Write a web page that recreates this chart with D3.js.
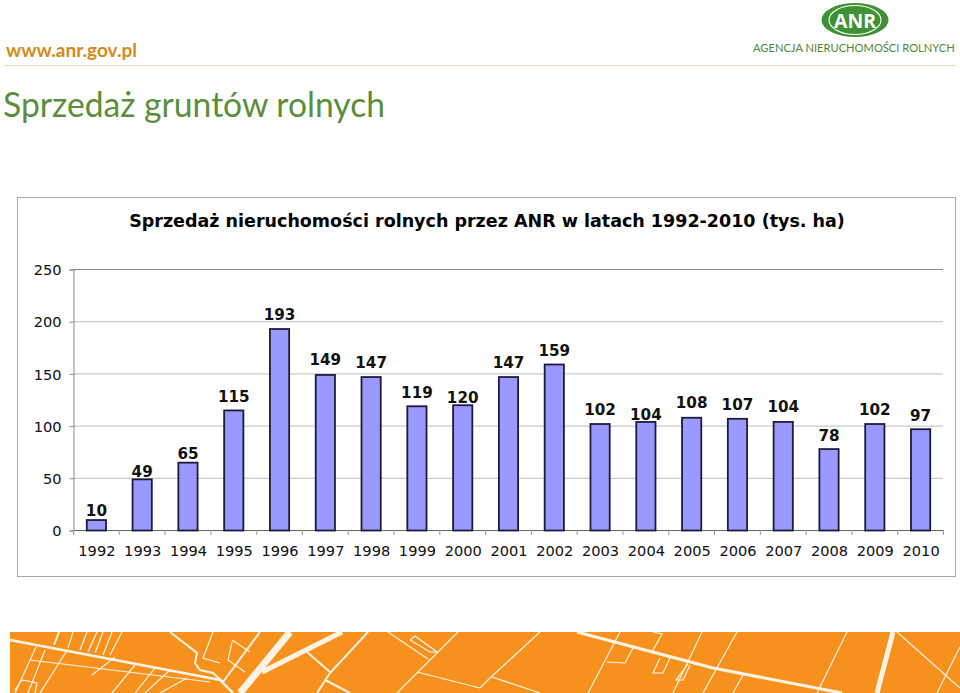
<!DOCTYPE html>
<html lang="pl">
<head>
	<meta charset="UTF-8">
	<title>Sprzedaż gruntów rolnych</title>
	<style>
		html, body { margin: 0; padding: 0; background: #fff; }
		svg { display: block; }
		.tick-label { font: 14.6px "DejaVu Sans", sans-serif; fill: #111; }
		.value-label { font: bold 15.2px "DejaVu Sans", sans-serif; fill: #111; text-anchor: middle; }
		.bar { fill: #9999ff; stroke: #1c1c3a; stroke-width: 1.8px; }
	</style>
</head>
<body>
<script src="https://d3js.org/d3.v7.min.js"></script>
<script>
	var years = ['1992','1993','1994','1995','1996','1997','1998','1999','2000','2001','2002','2003','2004','2005','2006','2007','2008','2009','2010'];
	var sales = [10,49,65,115,193,149,147,119,120,147,159,102,104,108,107,104,78,102,97];
	var yTicks = [0,50,100,150,200,250];
	// the labels do not sit at one height above the bars in the original
	var labelGaps = [4,2,3,8,9,9,9,8,2,9,8,9,1,9,8,9,8,9,8];

	// street lines of the footer band: [width, x,y, x,y, ...]
	var roads = [
		[2.5, 10,640, 220,680, 233,693],
		[2, 59,632, 54,645],
		[1.2, 73,632, 68,648], [1.2, 87,632, 80,650], [1.2, 97,632, 88,652],
		[1.2, 103,632, 95,653], [1.2, 112,632, 103,655], [1.2, 122,632, 110,655],
		[1.2, 36,647, 15,693], [1.2, 45,650, 28,693], [1.2, 66,652, 40,693],
		[1.2, 30,660, 210,682], [1.2, 115,657, 92,675], [1.2, 135,665, 112,693],
		[1.2, 155,668, 135,693], [1.2, 170,670, 145,693], [1.2, 187,678, 160,693],
		[1.2, 15,690, 22,680, 37,683, 35,693],
		[2, 170,632, 197,653, 195,663, 200,670, 213,673, 223,682],
		[1.2, 213,632, 203,658, 220,663],
		[1.2, 232,640, 250,652], [1.2, 232,642, 228,660, 245,672],
		[2, 260,632, 223,682],
		[7, 240,693, 290,632],
		[5, 262,672, 342,632],
		[2, 368,632, 330,673, 317,693],
		[2, 307,652, 330,672],
		[2, 325,680, 350,693],
		[1.2, 388,632, 428,659],
		[1.2, 410,640, 415,636, 437,652, 430,652, 410,640],
		[1.2, 458,632, 397,693],
		[1.2, 417,672, 480,688],
		[1.2, 540,632, 490,678, 480,688],
		[1.2, 492,677, 540,693],
		[3, 577,632, 713,668, 842,693],
		[1.2, 620,632, 588,693],
		[1.2, 607,662, 625,663, 633,648],
		[1.2, 653,632, 662,634, 652,652],
		[1.2, 660,658, 653,673, 663,673, 670,658],
		[1.2, 688,664, 676,680, 683,680, 690,665],
		[1.2, 702,632, 673,693],
		[1.2, 737,632, 703,693],
		[1.2, 743,675, 733,693],
		[1.2, 847,632, 817,693],
		[5, 893,632, 877,693],
		[1.2, 897,632, 960,688],
		[1.2, 960,647, 937,693]
	];

	var width = 960, height = 693;
	var svg = d3.select('body').append('svg')
		.attr('width', width)
		.attr('height', height);

	// header
	svg.append('text').attr('x', 6).attr('y', 57)
		.text('www.anr.gov.pl')
		.style('font', 'bold 19px Lato, sans-serif')
		.style('fill', '#d68a1c');

	svg.append('line')
		.attr('x1', 4).attr('x2', 956).attr('y1', 65.5).attr('y2', 65.5)
		.style('stroke', '#e8d9b5').style('stroke-width', 1);

	svg.append('text').attr('x', 3).attr('y', 117)
		.attr('textLength', 382).attr('lengthAdjust', 'spacingAndGlyphs')
		.text('Sprzedaż gruntów rolnych')
		.style('font', '400 35px Lato, sans-serif')
		.style('fill', '#5b8f3c');

	// logo
	var logo = svg.append('g').attr('transform', 'translate(855,20)');
	logo.append('ellipse').attr('rx', 33.5).attr('ry', 17).style('fill', '#3f9234');
	logo.append('ellipse').attr('rx', 26).attr('ry', 14.5)
		.style('fill', 'none').style('stroke', '#fff').style('stroke-width', 1.1);
	logo.append('text').attr('x', -21).attr('y', 7.5)
		.attr('textLength', 42).attr('lengthAdjust', 'spacingAndGlyphs')
		.text('ANR')
		.style('font', 'bold 20px "Open Sans", sans-serif')
		.style('fill', '#fff');
	svg.append('text').attr('x', 753).attr('y', 52)
		.text('AGENCJA NIERUCHOMOŚCI ROLNYCH')
		.style('font', '11.15px Lato, sans-serif')
		.style('fill', '#4d8a35');

	// chart frame
	svg.append('rect')
		.attr('x', 17.5).attr('y', 197.5).attr('width', 938).attr('height', 379)
		.style('fill', '#fff').style('stroke', '#a8a8a8').style('stroke-width', 1);

	svg.append('text').attr('x', 487).attr('y', 227)
		.attr('text-anchor', 'middle')
		.text('Sprzedaż nieruchomości rolnych przez ANR w latach 1992-2010 (tys. ha)')
		.style('font', 'bold 17.5px "DejaVu Sans", sans-serif')
		.style('fill', '#000');

	var x = d3.scaleBand().domain(years).range([73.5, 943.5]).paddingInner(0.58).paddingOuter(0.29);
	var y = d3.scaleLinear().domain([0, 250]).range([530, 269]);

	// gridlines
	svg.append('g').selectAll('line')
		.data(yTicks.slice(1))
		.enter()
		.append('line')
		.attr('x1', 73).attr('x2', 943)
		.attr('y1', d => y(d) + 0.5).attr('y2', d => y(d) + 0.5)
		.style('stroke', d => d === 250 ? '#8a8a8a' : '#bdbdbd');

	var yAxis = svg.append('g')
		.attr('transform', 'translate(73.5,0.5)')
		.call(d3.axisLeft(y).tickValues(yTicks).tickSize(4).tickPadding(8));
	yAxis.selectAll('text').attr('class', 'tick-label').attr('dy', '0.36em');
	yAxis.selectAll('path,line').style('stroke', '#8a8a8a');

	var outer = d3.scalePoint().domain(years).range([x(years[0]) + x.bandwidth() / 2, x(years[18]) + x.bandwidth() / 2]);
	var xAxis = svg.append('g')
		.attr('transform', 'translate(0,530.5)')
		.call(d3.axisBottom(outer).tickSize(0).tickPadding(15));
	xAxis.selectAll('text').attr('class', 'tick-label');
	xAxis.select('.domain').attr('d', 'M73,0H943').style('stroke', '#666');

	// tick marks between the categories
	svg.append('g').selectAll('line')
		.data(d3.range(years.length + 1))
		.enter()
		.append('line')
		.attr('x1', d => 73.5 + d * (870 / years.length))
		.attr('x2', d => 73.5 + d * (870 / years.length))
		.attr('y1', 530).attr('y2', 535)
		.style('stroke', '#999');

	// bars
	svg.append('g').selectAll('rect')
		.data(sales)
		.enter()
		.append('rect')
		.attr('class', 'bar')
		.attr('x', (d, i) => x(years[i]))
		.attr('y', d => y(d) + 0.5)
		.attr('width', x.bandwidth())
		.attr('height', d => y(0) - y(d));

	svg.append('g').selectAll('text')
		.data(sales)
		.enter()
		.append('text')
		.attr('class', 'value-label')
		.attr('x', (d, i) => x(years[i]) + x.bandwidth() / 2)
		.attr('y', (d, i) => y(d) - labelGaps[i])
		.text(d => d);

	// footer band
	svg.append('rect')
		.attr('x', 10).attr('y', 632).attr('width', 950).attr('height', 61)
		.style('fill', '#f6911e');

	var line = d3.line();
	svg.append('g').selectAll('path')
		.data(roads)
		.enter()
		.append('path')
		.attr('d', function(r) {
			var pts = [];
			for (var i = 1; i < r.length; i += 2) pts.push([r[i], r[i + 1]]);
			return line(pts);
		})
		.style('fill', 'none')
		.style('stroke', '#fff4e4')
		.style('stroke-width', r => r[0]);
</script>
</body>
</html>
